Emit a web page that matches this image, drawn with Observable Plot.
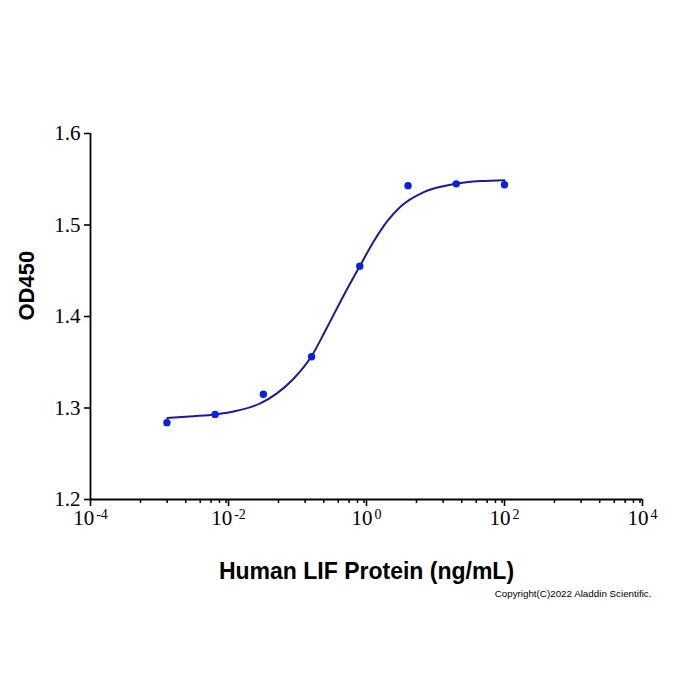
<!DOCTYPE html>
<html><head><meta charset="utf-8">
<script src="https://cdn.jsdelivr.net/npm/d3@7"></script>
<script src="https://cdn.jsdelivr.net/npm/@observablehq/plot@0.6"></script>
<style>html,body{margin:0;padding:0;background:#fff;} #chart{width:700px;height:700px;}</style>
</head><body><div id="chart"></div>
<script>
// Measured points (ng/mL, OD450)
const concentration = [0.00128, 0.0064, 0.032, 0.16, 0.8, 4, 20, 100];
const od450 = [1.284, 1.293, 1.315, 1.356, 1.455, 1.543, 1.545, 1.544];
// Fitted curve
const fitConcentration = [0.0013, 0.0031, 0.0064, 0.0132, 0.0288, 0.0503, 0.0877, 0.158, 0.268, 0.467, 0.8, 1.27, 1.99, 3.10, 6.76, 19.7, 45, 100];
const fitOD450 = [1.289, 1.291, 1.293, 1.297, 1.305, 1.316, 1.332, 1.356, 1.388, 1.423, 1.455, 1.482, 1.504, 1.520, 1.536, 1.545, 1.548, 1.549];
// Ticks
const yTicks = [1.2, 1.3, 1.4, 1.5, 1.6];
const xMajorTicks = [1e-4, 1e-2, 1e0, 1e2, 1e4];
const xMinorMultipliers = [5.3, 12.9, 24, 39, 56, 74, 92];
const xMinorTicks = xMajorTicks.slice(0, -1).flatMap(b => xMinorMultipliers.map(m => b * m));

const yTitle = "OD450";
const xTitle = "Human LIF Protein (ng/mL)";
const copyright = "Copyright(C)2022 Aladdin Scientific.";

const points = concentration.map((c, i) => ({c, od: od450[i]}));
const fit = fitConcentration.map((c, i) => ({c, od: fitOD450[i]}));

const serif = "'Liberation Serif','Times New Roman',serif";
const sans = "'Liberation Sans',Arial,sans-serif";

const plot = Plot.plot({
  width: 700, height: 700,
  marginLeft: 90, marginRight: 58, marginTop: 133, marginBottom: 201,
  style: {background: "white", color: "black", fontFamily: serif, fontSize: "21px", overflow: "visible"},
  x: {type: "log", domain: [1e-4, 1e4], axis: null},
  y: {domain: [1.2, 1.6], axis: null},
  marks: [
    Plot.axisY({ticks: yTicks, tickSize: 6, tickPadding: 4, tickFormat: d3.format(".1f"), fontSize: 21, fontFamily: serif, label: null, strokeWidth: 1.6, anchor: "left"}),
    Plot.axisX({ticks: xMinorTicks, tickSize: 4, tickFormat: () => "", label: null, strokeWidth: 1.5, anchor: "bottom"}),
    Plot.axisX({ticks: xMajorTicks, tickSize: 7, tickFormat: () => "", label: null, strokeWidth: 1.6, anchor: "bottom"}),
    Plot.ruleX([1e-4], {stroke: "black", strokeWidth: 1.8}),
    Plot.ruleY([1.2], {stroke: "black", strokeWidth: 1.8}),
    Plot.text(xMajorTicks, {x: d => d, frameAnchor: "bottom", dy: 25, text: d => "e" + Math.round(Math.log10(d)), fontSize: 21, fontFamily: serif, textAnchor: "middle"}),
    Plot.line(fit, {x: "c", y: "od", curve: "monotone-x", stroke: "#1a1a9c", strokeWidth: 2}),
    Plot.dot(points, {x: "c", y: "od", r: 3.7, fill: "#0a1ee6", stroke: "none"}),
    Plot.text([yTitle], {frameAnchor: "left", dx: -64, dy: 4, rotate: -90, fontFamily: sans, fontWeight: "bold", fontSize: 22}),
    Plot.text([xTitle], {frameAnchor: "bottom", dy: 79, fontFamily: sans, fontWeight: "bold", fontSize: 23}),
    Plot.text([copyright], {frameAnchor: "bottom-right", textAnchor: "end", dx: 9, dy: 97, fontFamily: sans, fontSize: 9.8})
  ]
});

// Turn "e-4" labels into 10 with a superscript exponent
d3.select(plot).selectAll("text").each(function () {
  const s = this.textContent;
  const m = /^e(-?\d+)$/.exec(s);
  if (!m || this.childElementCount > 0) return;
  const t = d3.select(this);
  t.text("10");
  t.append("tspan").attr("dx", 2).attr("dy", -6).attr("font-size", 14).text(m[1]);
});

document.getElementById("chart").appendChild(plot);
</script>
</body></html>
